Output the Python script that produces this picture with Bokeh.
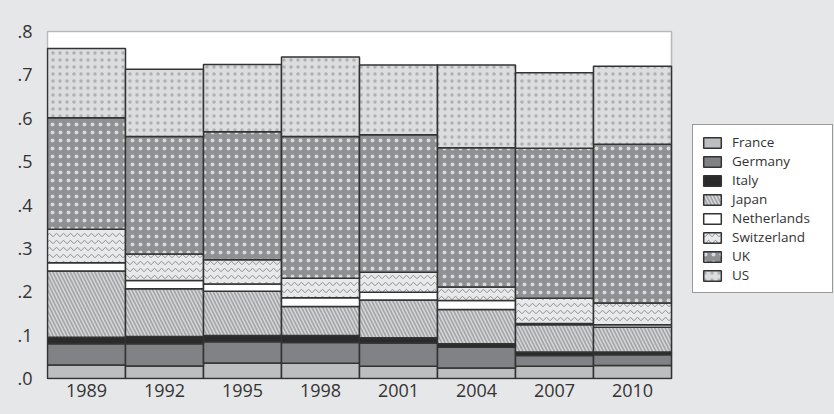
from bokeh.plotting import figure
from bokeh.models import (ColumnDataSource, Range1d, FixedTicker, Legend, LegendItem,
                          BoxAnnotation)
from bokeh.embed import file_html
from bokeh.resources import INLINE

years = ["1989", "1992", "1995", "1998", "2001", "2004", "2007", "2010"]
countries = ["France", "Germany", "Italy", "Japan", "Netherlands", "Switzerland", "UK", "US"]

france      = [0.031, 0.029, 0.036, 0.035, 0.028, 0.024, 0.028, 0.030]
germany     = [0.049, 0.051, 0.049, 0.048, 0.054, 0.048, 0.025, 0.025]
italy       = [0.015, 0.017, 0.014, 0.016, 0.012, 0.008, 0.008, 0.006]
japan       = [0.153, 0.110, 0.102, 0.067, 0.087, 0.079, 0.063, 0.057]
netherlands = [0.019, 0.019, 0.017, 0.020, 0.018, 0.021, 0.003, 0.006]
switzerland = [0.077, 0.061, 0.056, 0.045, 0.046, 0.031, 0.058, 0.050]
uk          = [0.257, 0.271, 0.295, 0.327, 0.317, 0.321, 0.346, 0.366]
us          = [0.160, 0.155, 0.155, 0.183, 0.161, 0.191, 0.174, 0.180]

y_ticks = [0.0, 0.1, 0.2, 0.3, 0.4, 0.5, 0.6, 0.7, 0.8]
y_tick_labels = [".0", ".1", ".2", ".3", ".4", ".5", ".6", ".7", ".8"]

x_pos = list(range(len(years)))
data = dict(x=x_pos, France=france, Germany=germany, Italy=italy,
            Japan=japan, Netherlands=netherlands, Switzerland=switzerland, UK=uk, US=us)
source = ColumnDataSource(data)

fills = ["#bcbec0", "#808285", "#2b2a2b", "#a3a5a8", "#ffffff", "#e8e9ea", "#8e9093", "#dcdddf"]
hatches = [" ", " ", " ", "left_diagonal_line", " ", "horizontal_wave", "dot", "dot"]
hatch_colors = ["#ffffff", "#ffffff", "#ffffff", "#d6d7d9", "#ffffff", "#8c8d8f", "#d8d9db", "#aeb0b2"]
hatch_scales = [8, 8, 8, 7, 8, 7, 8, 7]
hatch_weights = [1, 1, 1, 1.5, 1, 1, 1, 1]

FONT = "Open Sans"
BG = "#e6e7e8"
W, H = 834, 406
LEFT, TOP, BOTTOM = 46, 30, 27
PX_PER_BAR = 78.0
PX_PER_UNIT_Y = 433.75

x0 = -0.5 - 1.0 / PX_PER_BAR
x1 = x0 + (W - LEFT) / PX_PER_BAR
y0 = -1.0 / PX_PER_UNIT_Y
y1 = 0.8 + 1.0 / PX_PER_UNIT_Y

p = figure(x_range=Range1d(x0, x1), y_range=Range1d(y0, y1),
           width=W, height=H, output_backend="svg", toolbar_location=None,
           min_border_left=LEFT, min_border_top=TOP, min_border_right=0, min_border_bottom=BOTTOM,
           background_fill_color=BG, border_fill_color=BG)
p.outline_line_color = None
p.xgrid.grid_line_color = None
p.ygrid.grid_line_color = None

# white plot area with dark frame
p.add_layout(BoxAnnotation(left=-0.5, right=len(years) - 0.5, bottom=0, top=0.8,
                           fill_color="white", fill_alpha=1.0, line_color="#333333",
                           line_width=1.5, level="underlay"))

renderers = p.vbar_stack(countries, x="x", width=1.0, source=source,
                         fill_color=fills, line_color="#333333", line_width=1.5,
                         hatch_pattern=hatches, hatch_color=hatch_colors,
                         hatch_scale=hatch_scales, hatch_weight=hatch_weights)

for ax in (p.xaxis[0], p.yaxis[0]):
    ax.axis_line_color = None
    ax.major_tick_line_color = None
    ax.minor_tick_line_color = None
    ax.major_tick_out = 0
    ax.major_tick_in = 0
    ax.minor_tick_out = 0
    ax.major_label_text_font = FONT
    ax.major_label_text_font_size = "18px"
    ax.major_label_text_color = "#333333"

p.xaxis[0].ticker = FixedTicker(ticks=x_pos)
p.xaxis[0].major_label_overrides = {i: y for i, y in zip(x_pos, years)}
p.xaxis[0].major_label_standoff = 4
p.yaxis[0].ticker = FixedTicker(ticks=y_ticks)
p.yaxis[0].major_label_overrides = {t: l for t, l in zip(y_ticks, y_tick_labels)}
p.yaxis[0].major_label_standoff = 14

items = [LegendItem(label=c, renderers=[r]) for c, r in zip(countries, renderers)]
legend = Legend(items=items, location=(646, 86), margin=0, padding=8,
                glyph_width=22, glyph_height=13, label_height=13, label_width=92, spacing=1,
                label_standoff=9, label_text_font=FONT, label_text_font_size="13.5px",
                label_text_color="#333333", border_line_color="#333333", border_line_width=1,
                background_fill_color="white", background_fill_alpha=1.0)
p.add_layout(legend, "center")

html = file_html(p, INLINE)
html = html.replace("<head>", "<head><style>body{background:%s;}</style>" % BG, 1)
open("out.html", "w").write(html)
